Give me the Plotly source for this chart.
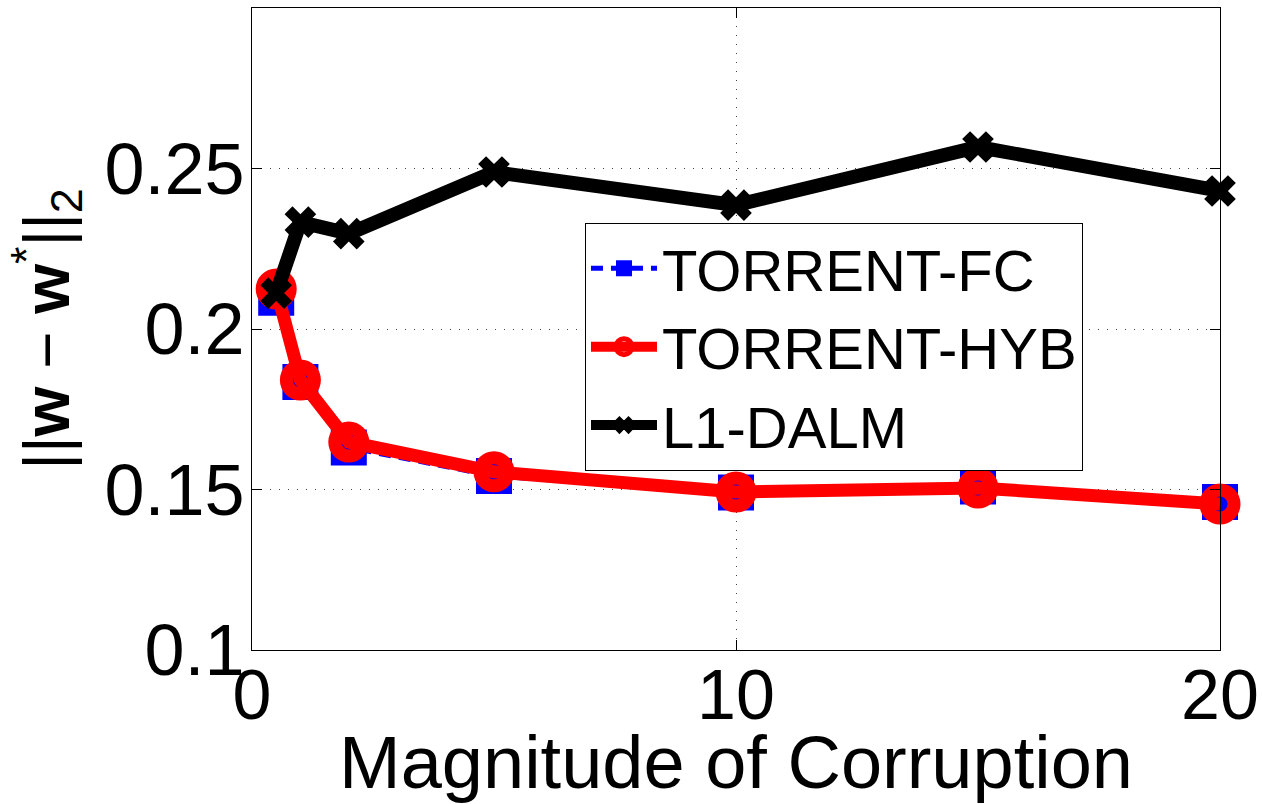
import plotly.graph_objects as go

corruption = [0.5, 1, 2, 5, 10, 15, 20]
torrent_fc = [0.2097, 0.1835, 0.1631, 0.1542, 0.1491, 0.1509, 0.1461]
torrent_hyb = [0.2125, 0.1841, 0.1648, 0.1555, 0.1492, 0.1505, 0.1455]
l1_dalm = [0.2112, 0.2333, 0.2297, 0.2489, 0.2386, 0.2567, 0.2430]

x_ticks = [0, 10, 20]
y_ticks = [0.1, 0.15, 0.2, 0.25]
y_tick_text = ["0.1", "0.15", "0.2", "0.25"]

FONT = "Liberation Sans, Arial, Helvetica, sans-serif"

fig = go.Figure()
fig.add_trace(go.Scatter(
    x=corruption, y=torrent_fc, name="TORRENT-FC", mode="lines+markers",
    line=dict(color="#0000ff", width=5, dash="12px,8px"),
    marker=dict(symbol="square", size=36, color="#0000ff", line=dict(width=0)),
    cliponaxis=False,
))
fig.add_trace(go.Scatter(
    x=corruption, y=torrent_hyb, name="TORRENT-HYB", mode="lines+markers",
    line=dict(color="#ff0000", width=13),
    marker=dict(symbol="circle-open", size=28, color="#ff0000", line=dict(width=13, color="#ff0000")),
    cliponaxis=False,
))
fig.add_trace(go.Scatter(
    x=corruption, y=l1_dalm, name="L1-DALM", mode="lines+markers",
    line=dict(color="#000000", width=14),
    marker=dict(symbol="x", size=28, color="#000000", line=dict(width=0)),
    cliponaxis=False,
))

axis_common = dict(
    showline=True, linecolor="black", linewidth=1, mirror="ticks",
    ticks="inside", ticklen=10, tickcolor="black", tickwidth=1,
    showgrid=True, gridcolor="#444444", gridwidth=1, griddash="1px,8px",
    zeroline=False, automargin=False,
)

fig.update_xaxes(
    range=[0, 20], tickvals=x_ticks, ticktext=[str(v) for v in x_ticks],
    tickfont=dict(family=FONT, size=70, color="black"),
    title=dict(text="Magnitude of Corruption", font=dict(family=FONT, size=74, color="black"), standoff=0),
    ticklabelstandoff=-16,
    **axis_common,
)
fig.update_yaxes(
    range=[0.1, 0.3], tickvals=y_ticks, ticktext=y_tick_text,
    tickfont=dict(family=FONT, size=72, color="black"),
    title=dict(text="||<b>w</b> \u2212 <b>w</b><sup>*</sup>||<sub>2</sub>",
               font=dict(family=FONT, size=64, color="black"), standoff=14),
    ticklabelstandoff=-8,
    **axis_common,
)

fig.update_layout(
    width=1262, height=804,
    margin=dict(l=252, r=42, t=8, b=154),
    paper_bgcolor="white", plot_bgcolor="white",
    font=dict(family=FONT, color="black"),
    legend=dict(
        x=0.344, y=0.665, xanchor="left", yanchor="top",
        bgcolor="white", bordercolor="black", borderwidth=1,
        font=dict(family=FONT, size=58, color="black"),
        itemwidth=66, tracegroupgap=0,
    ),
    showlegend=True,
)

fig.write_html("out.html")
